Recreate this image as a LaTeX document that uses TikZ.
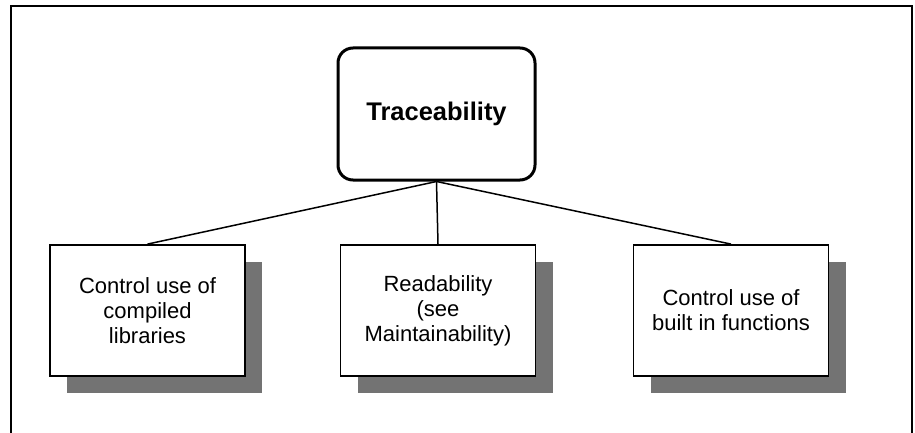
\documentclass[tikz,border=0pt]{standalone}
\usepackage{fontspec}
\setmainfont{Liberation Sans}
\usetikzlibrary{shadows,positioning}
\tikzset{goal/.style={
            draw,
            fill=white,
            rounded corners=15pt,
            line width=3pt,
            minimum width=197pt,
            minimum height=132pt,
            font=\fontsize{25.5}{28}\selectfont\bfseries
        },
        subgoal/.style={
            draw,
            fill=white,
            line width=1.8pt,
            minimum width=195pt,
            minimum height=131pt,
            align=center,
            font=\fontsize{22}{25}\selectfont,
            drop shadow={shadow xshift=17pt, shadow yshift=-17pt, opacity=1, fill=black!55}
        },
        link/.style={
            line width=1.5pt
        },
        frame/.style={
            line width=2.5pt
        }
    }

\begin{document}
\begin{tikzpicture}[x=1pt,y=-1pt]
        \useasboundingbox (0,0) rectangle (915,433);
        \draw[frame] (11,440) -- (11,6) -- (912,6) -- (912,440);

        \node[goal] at (436.5,114) (trace) {Traceability};
        \node[subgoal] at (147.5,310.5) (libs) {Control use of\\compiled\\libraries};
        \node[subgoal] at (438,310.5) (read) {Readability\\(see\\Maintainability)};
        \node[subgoal] at (731,310.5) (funcs) {Control use of\\built in functions};

        \draw[link] (trace.south) -- (libs.north);
        \draw[link] (trace.south) -- (read.north);
        \draw[link] (trace.south) -- (funcs.north);
    \end{tikzpicture}
\end{document}
